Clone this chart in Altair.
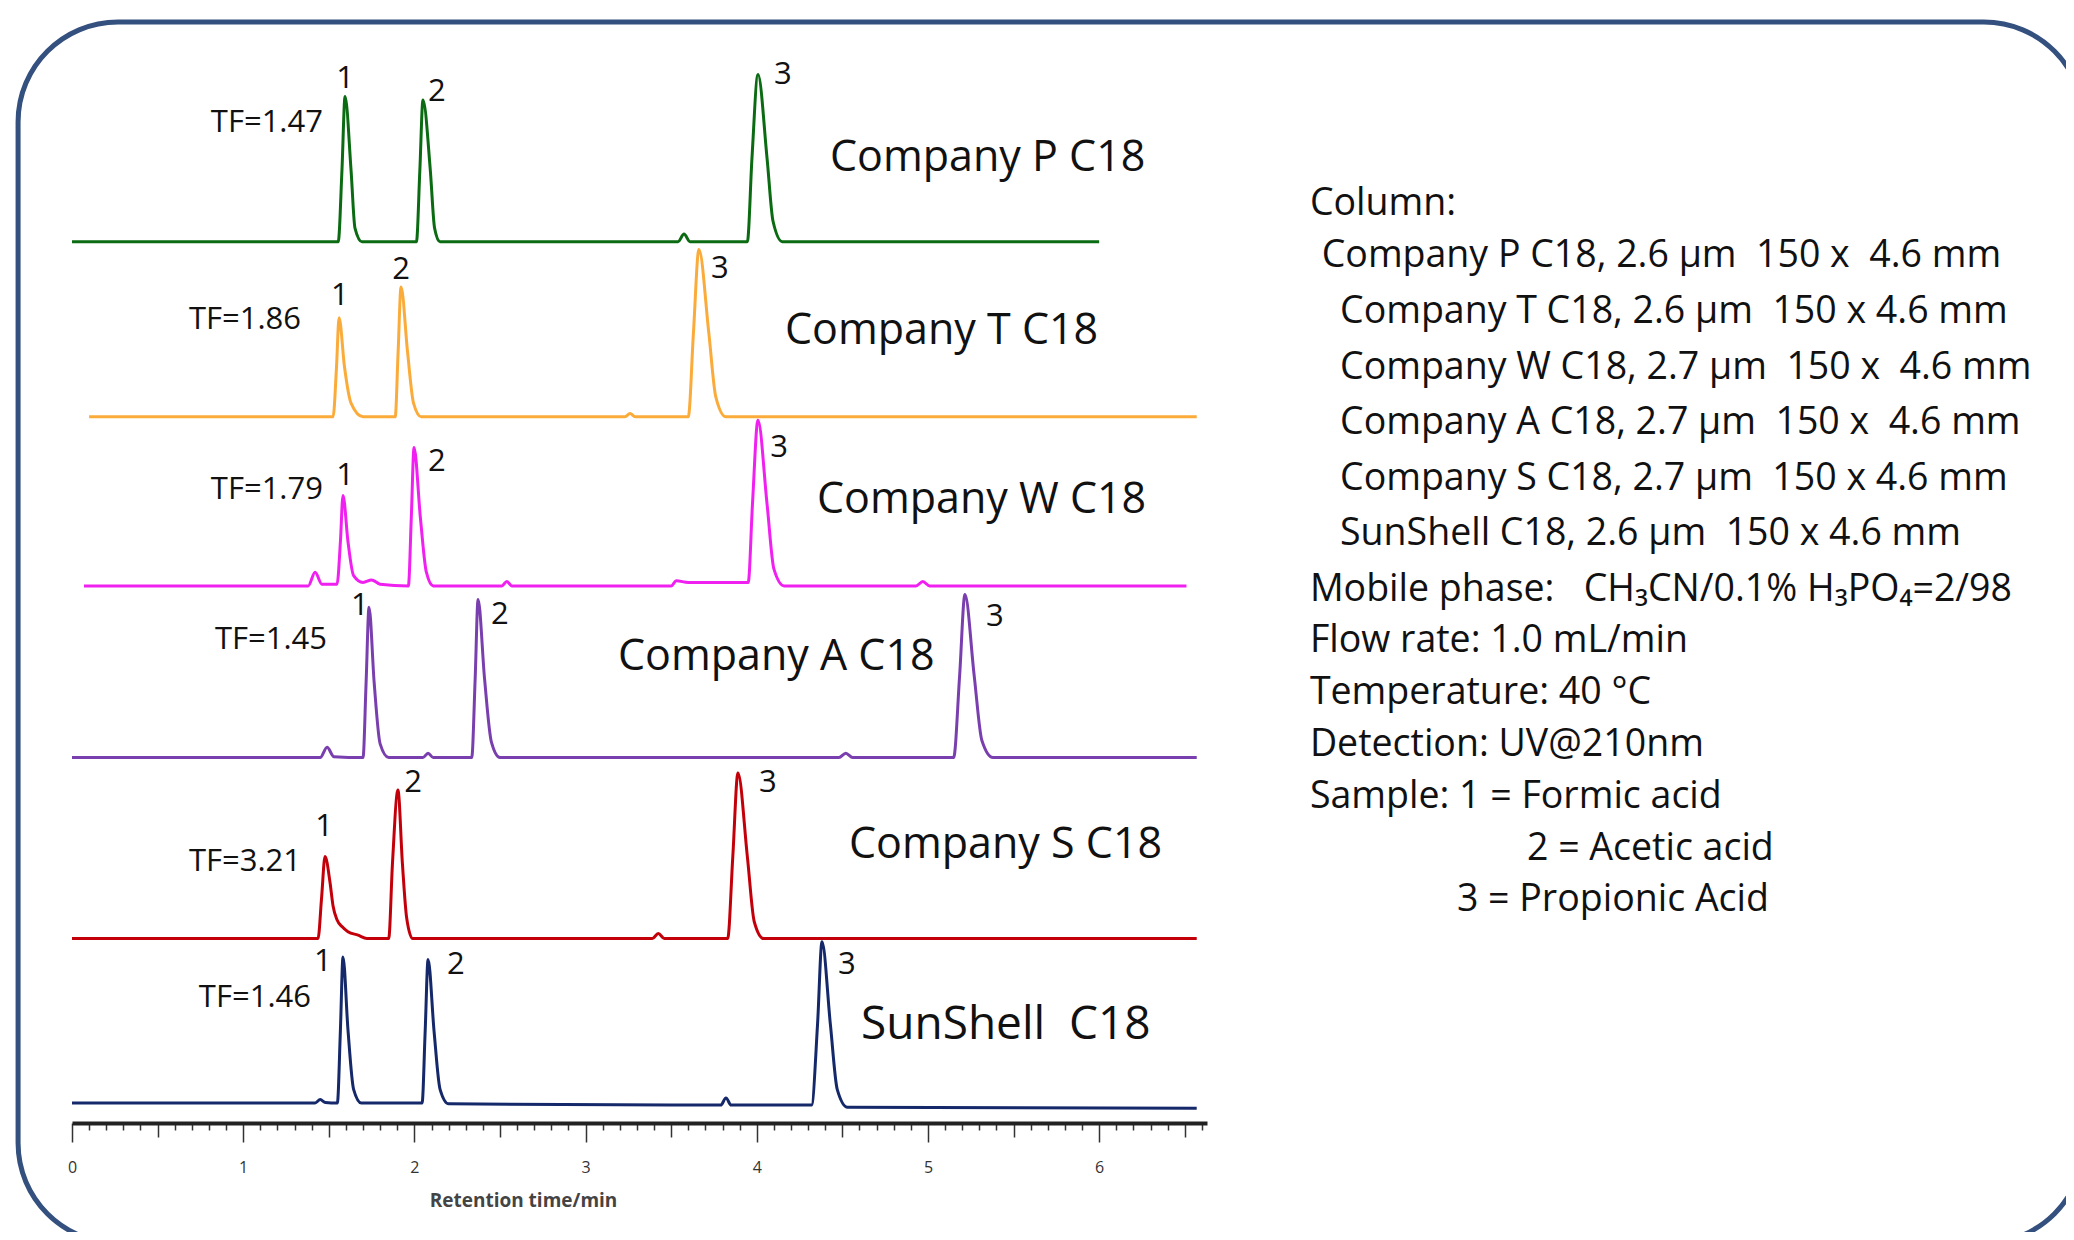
import altair as alt
import pandas as pd

# ---------------- data ----------------
columns = ["Company P C18", "Company T C18", "Company W C18",
           "Company A C18", "Company S C18", "SunShell\u00a0\u00a0C18"]
line_colors = ["#0b6b12", "#fbab3a", "#f020f0", "#7a3fae", "#c3000a", "#14286a"]
baseline_offsets = [516, 413.5, 314.5, 214, 108, 11.7]
tf_labels = ["TF=1.47", "TF=1.86", "TF=1.79", "TF=1.45", "TF=3.21", "TF=1.46"]
peak_names = ["1", "2", "3"]

# retention time (min) / detector signal (a.u.) vertices of each chromatogram
p_time = [0.0, 1.555, 1.577, 1.595, 1.630, 1.653, 1.694, 2.012, 2.032, 2.050, 2.093, 2.118, 2.150,
          3.540, 3.575, 3.610, 3.945, 3.972, 4.007, 4.060, 4.095, 4.150, 6.0]
p_signal = [0, 0, 42, 85, 42, 8, 0, 0, 42, 83, 42, 8, 0, 0, 4.5, 0, 0, 49, 98, 49, 12, 0, 0]

t_time = [0.10, 1.525, 1.545, 1.560, 1.592, 1.630, 1.700, 1.888, 1.905, 1.922, 1.960, 1.995, 2.040,
          3.230, 3.260, 3.290, 3.600, 3.630, 3.662, 3.720, 3.760, 3.820, 6.57]
t_signal = [0, 0, 29, 58, 29, 8, 0, 0, 38, 76, 38, 8, 0, 0, 2, 0, 0, 49, 98, 49, 12, 0, 0]

w_time = [0.07, 1.380, 1.420, 1.460, 1.548, 1.568, 1.583, 1.612, 1.645, 1.700, 1.750, 1.800,
          1.965, 1.982, 1.998, 2.035, 2.070, 2.110, 2.510, 2.540, 2.570, 3.500, 3.530, 3.600,
          3.950, 3.975, 4.007, 4.060, 4.100, 4.160, 4.930, 4.970, 5.010, 6.51]
w_signal = [0, 0, 8, 1, 1, 26, 53, 26, 6, 2, 3.5, 1, 0, 40, 81, 40, 8, 0, 0, 2.5, 0, 0, 3, 2,
            2, 48, 97, 48, 10, 0, 0, 2.5, 0, 0]

a_time = [0.0, 1.450, 1.490, 1.530, 1.700, 1.718, 1.735, 1.765, 1.800, 1.850, 2.050, 2.080, 2.110,
          2.335, 2.355, 2.372, 2.410, 2.450, 2.500, 4.480, 4.520, 4.560, 5.150, 5.185, 5.216,
          5.270, 5.315, 5.380, 6.57]
a_signal = [0, 0, 6, 0.5, 0, 44, 88, 44, 8, 0, 0, 2.5, 0, 0, 46, 92.5, 46, 9, 0, 0, 2.5, 0,
            0, 48, 95.5, 48, 10, 0, 0]

s_time = [0.0, 1.437, 1.458, 1.478, 1.507, 1.525, 1.548, 1.577, 1.612, 1.671, 1.723, 1.850, 1.872,
          1.904, 1.930, 1.955, 1.990, 3.390, 3.425, 3.460, 3.830, 3.860, 3.890, 3.945, 3.985,
          4.040, 6.57]
s_signal = [0, 0, 24, 48, 33, 19, 11, 7, 4, 2, 0, 0, 44, 87, 44, 12, 0, 0, 3, 0, 0, 48, 97, 48,
            10, 0, 0]

sun_time = [0.0, 1.420, 1.450, 1.480, 1.550, 1.568, 1.583, 1.612, 1.645, 1.690, 2.045, 2.063, 2.080,
            2.115, 2.150, 2.200, 3.790, 3.820, 3.850, 4.320, 4.355, 4.381, 4.430, 4.470, 4.530, 6.57]
sun_signal = [0, 0, 2, 0.3, 0, 43, 85.5, 43, 8, 0, 0, 42, 84, 42, 8, -0.5, -1.2, 3, -1.2, -1.2,
              46, 94.5, 46, 8, -2.5, -3]

# annotation anchors (time, stacked level)
peak_label_time = [[1.595, 2.132, 4.153], [1.565, 1.922, 3.785], [1.595, 2.132, 4.130],
                   [1.682, 2.500, 5.391], [1.472, 1.992, 4.065], [1.466, 2.243, 4.527]]
peak_label_level = [[613.7, 606.0, 616.0], [486.6, 501.8, 502.4], [381.2, 389.4, 397.6],
                    [305.1, 299.8, 298.6], [175.7, 201.4, 201.4], [96.6, 94.9, 94.9]]
tf_time = [1.466, 1.338, 1.466, 1.490, 1.338, 1.396]
tf_level = [587.3, 472.0, 372.4, 284.6, 154.6, 75.0]
name_time = [4.428, 4.165, 4.352, 3.189, 4.539, 4.609]
name_level = [567.7, 466.7, 367.7, 275.8, 165.7, 60.3]
name_size = [43, 43, 43, 43, 43, 46]

nb = "\u00a0"
cond_lines = [
    "Column:",
    nb + "Company P C18, 2.6 µm" + nb * 2 + "150 x" + nb * 2 + "4.6 mm",
    "Company T C18, 2.6 µm" + nb * 2 + "150 x 4.6 mm",
    "Company W C18, 2.7 µm" + nb * 2 + "150 x" + nb * 2 + "4.6 mm",
    "Company A C18, 2.7 µm" + nb * 2 + "150 x" + nb * 2 + "4.6 mm",
    "Company S C18, 2.7 µm" + nb * 2 + "150 x 4.6 mm",
    "SunShell C18, 2.6 µm" + nb * 2 + "150 x 4.6 mm",
    "Mobile phase:" + nb * 3 + "CH₃CN/0.1% H₃PO₄=2/98",
    "Flow rate: 1.0 mL/min",
    "Temperature: 40 °C",
    "Detection: UV@210nm",
    "Sample: 1 = Formic acid",
    "2 = Acetic acid",
    "3 = Propionic Acid",
]
cond_time = [7.231, 7.300, 7.407, 7.407, 7.407, 7.407, 7.407, 7.231, 7.231, 7.231, 7.231,
             7.231, 8.499, 8.090]
cond_level = [539.9, 509.4, 476.6, 444.1, 411.6, 379.1, 346.6, 313.7, 283.9, 253.5, 223.1,
              192.6, 162.2, 132.3]

tick_values = [round(i * 0.1, 1) for i in range(67)]

# ---------------- tables ----------------
trace_times = [p_time, t_time, w_time, a_time, s_time, sun_time]
trace_signals = [p_signal, t_signal, w_signal, a_signal, s_signal, sun_signal]
rows = []
for name, off, ts, ss in zip(columns, baseline_offsets, trace_times, trace_signals):
    for i, (t, s) in enumerate(zip(ts, ss)):
        rows.append({"trace": name, "t": t, "level": off + s, "i": i})
trace_df = pd.DataFrame(rows)

lab_rows = []
for k in range(6):
    for j in range(3):
        lab_rows.append({"t": peak_label_time[k][j], "level": peak_label_level[k][j],
                         "txt": peak_names[j]})
peak_df = pd.DataFrame(lab_rows)
tf_df = pd.DataFrame({"t": tf_time, "level": tf_level, "txt": tf_labels})
name_df = pd.DataFrame({"t": name_time, "level": name_level, "txt": columns, "fs": name_size})
cond_df = pd.DataFrame({"t": cond_time, "level": cond_level, "txt": cond_lines})
frame_df = pd.DataFrame({"t": [-0.315], "t_end": [11.752], "level": [644.7], "level_end": [-70.3]})

# ---------------- chart ----------------
FONT = "Open Sans"
xs = alt.Scale(domain=[0, 6.63], nice=False, zero=False)
ys = alt.Scale(domain=[0, 640], nice=False, zero=False)

is_int = "abs(datum.value - round(datum.value)) < 0.001"
is_half = "abs(datum.value * 2 - round(datum.value * 2)) < 0.001"

x_axis = alt.Axis(
    values=tick_values,
    labelExpr=f"{is_int} ? format(datum.value, 'd') : ''",
    labelOverlap=False, labelFlush=False,
    labelFont=FONT, labelFontSize=16, labelColor="#333", labelPadding=17,
    tickSize={"condition": [{"test": is_int, "value": 19}, {"test": is_half, "value": 14}],
              "value": 7},
    tickColor="#333", tickWidth=1.5,
    domainColor="#222", domainWidth=4, grid=False,
    title="Retention time/min", titleFont=FONT, titleFontSize=19, titleFontWeight="bold",
    titleColor="#444", titleX=451, titleY=77, titleAlign="center", titleBaseline="middle",
)

X = alt.X("t:Q", scale=xs, axis=x_axis)
Y = alt.Y("level:Q", scale=ys, axis=None)

frame = alt.Chart(frame_df).mark_rect(
    filled=False, stroke="#33507f", strokeWidth=5, cornerRadius=100
).encode(x=X, x2="t_end:Q", y=Y, y2="level_end:Q")

lines = alt.Chart(trace_df).mark_line(interpolate="monotone", strokeWidth=3).encode(
    x=X, y=Y,
    color=alt.Color("trace:N", scale=alt.Scale(domain=columns, range=line_colors), legend=None),
    order="i:Q",
)

peak_text = alt.Chart(peak_df).mark_text(
    font=FONT, fontSize=31, align="center", baseline="middle", color="#111", dy=4
).encode(x=X, y=Y, text="txt:N")

tf_text = alt.Chart(tf_df).mark_text(
    font=FONT, fontSize=31, align="right", baseline="middle", color="#111", dy=3
).encode(x=X, y=Y, text="txt:N")

name_text = alt.Chart(name_df).mark_text(
    font=FONT, align="left", baseline="middle", color="#111", dy=5
).encode(x=X, y=Y, text="txt:N", size=alt.Size("fs:Q", scale=None, legend=None))

cond_text = alt.Chart(cond_df).mark_text(
    font=FONT, fontSize=37.5, align="left", baseline="middle", color="#111", dy=3
).encode(x=X, y=Y, text="txt:N")

chart = alt.layer(lines, frame, peak_text, tf_text, name_text, cond_text).properties(
    width=1135, height=1093,
    autosize=alt.AutoSizeParams(type="none"),
    padding={"left": 64, "top": 22, "right": 859, "bottom": 109},
).configure_view(stroke=None)

chart.save("out.html", embed_options={"renderer": "svg", "actions": False})
